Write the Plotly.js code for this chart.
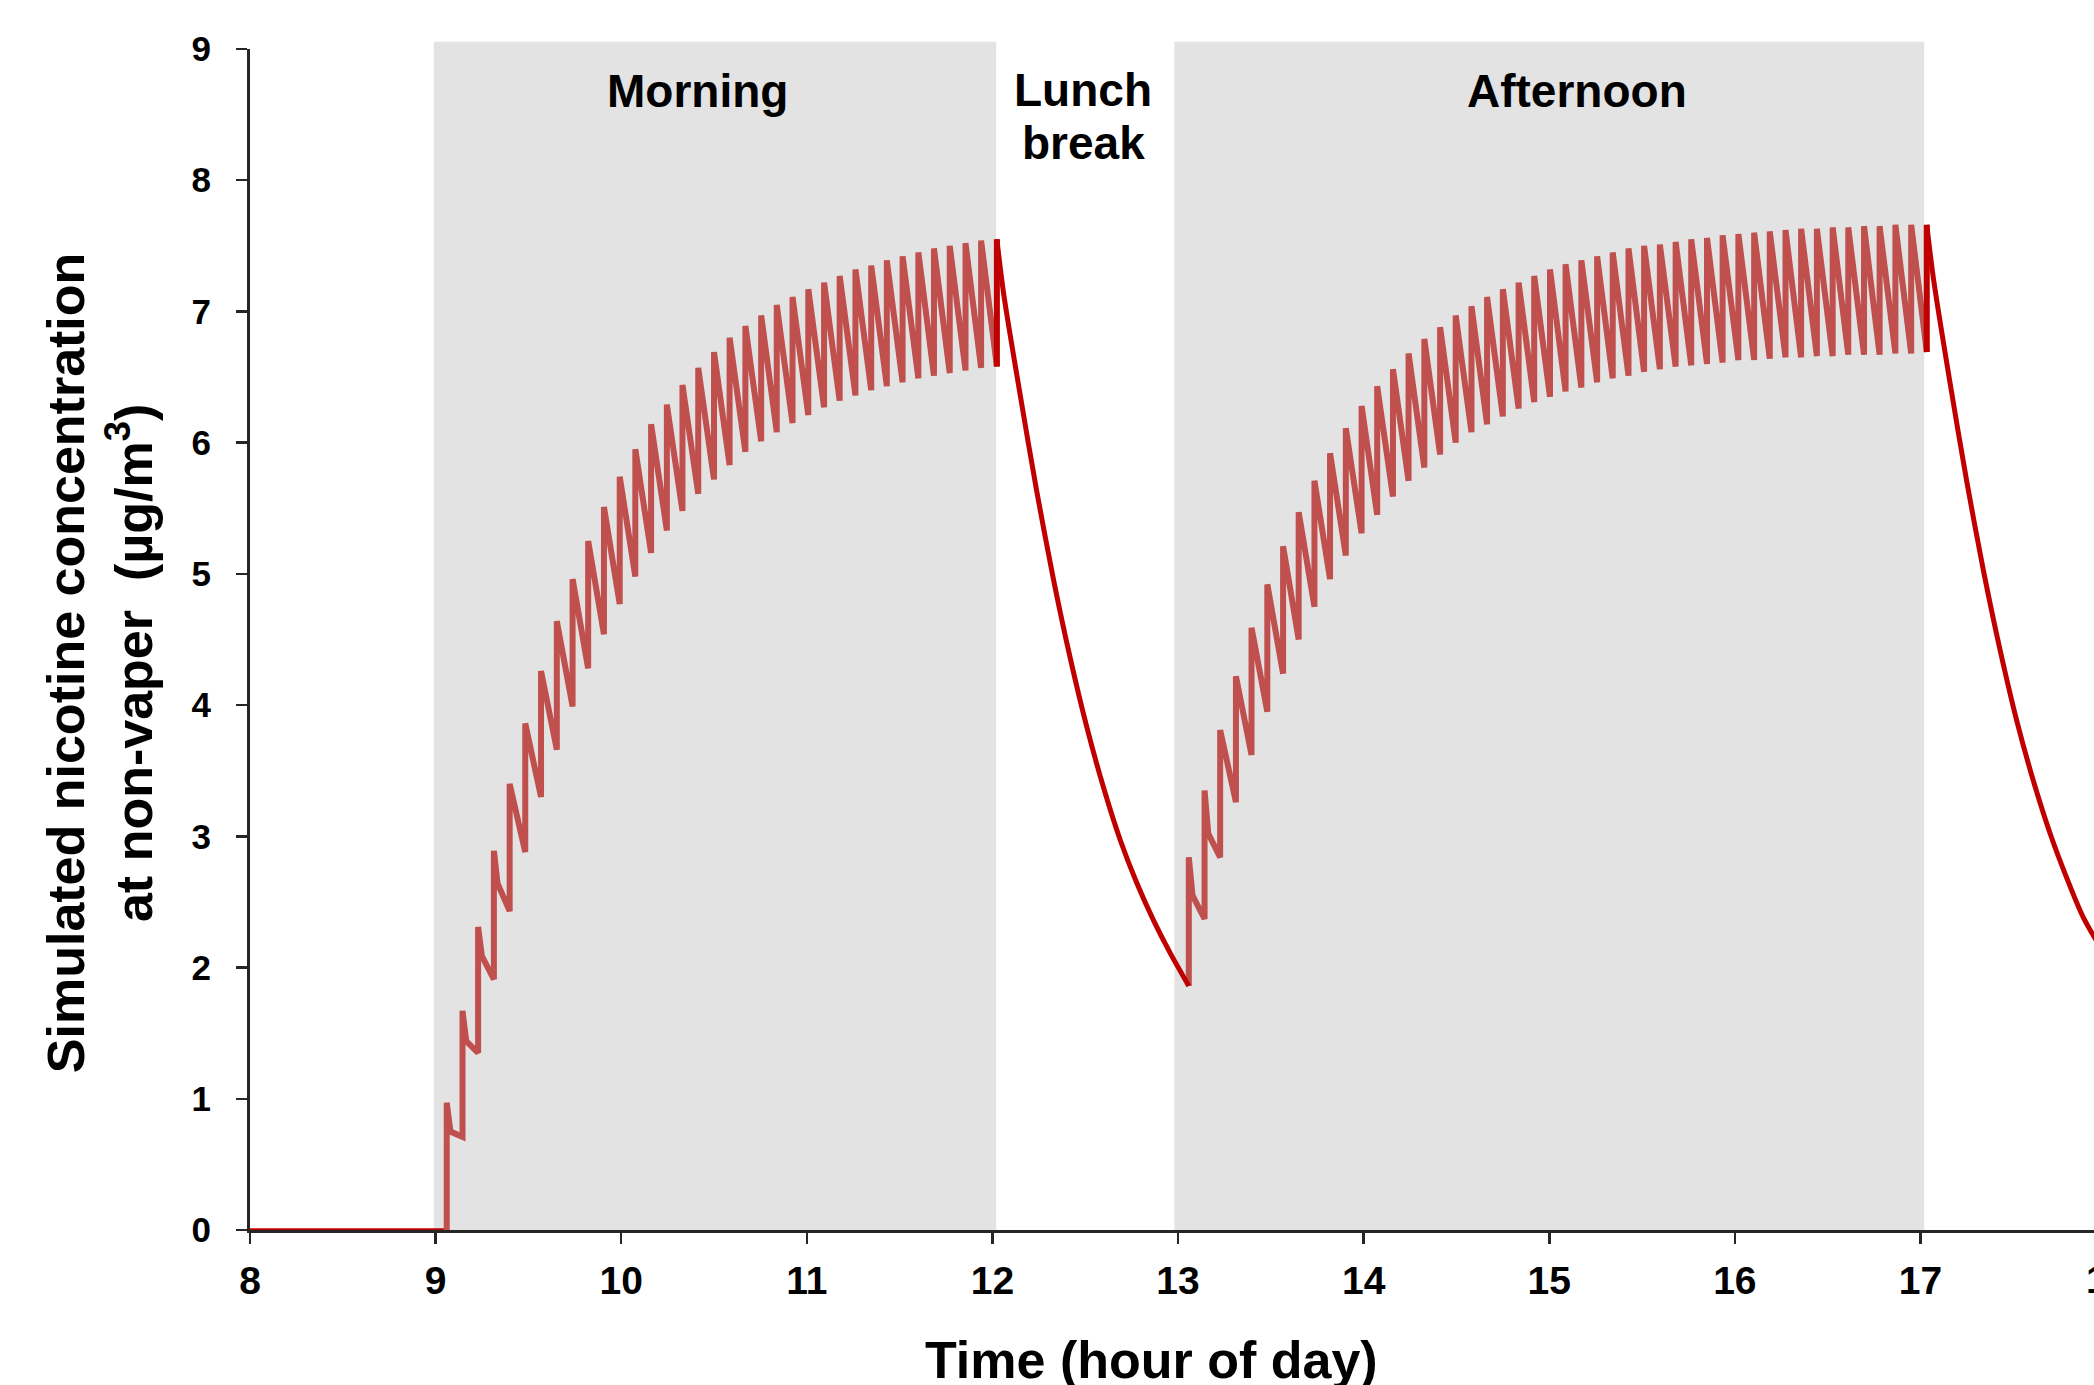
<!DOCTYPE html>
<html>
<head>
<meta charset="utf-8">
<script src="https://cdn.plot.ly/plotly-3.0.1.min.js"></script>
<style>
html, body { margin: 0; padding: 0; overflow: hidden; background: #fff; }
#chart { width: 2094px; height: 1385px; }
</style>
</head>
<body>
<div id="chart"></div>
<script>
// ---------------- DATA ----------------
// Morning vaping puffs (hour of day) and concentrations (µg/m3)
const morningPuffTimes = [9.060, 9.145, 9.229, 9.314, 9.399, 9.483, 9.568, 9.653, 9.738, 9.822,
  9.907, 9.992, 10.076, 10.161, 10.246, 10.330, 10.415, 10.500, 10.584, 10.669,
  10.754, 10.838, 10.923, 11.008, 11.093, 11.177, 11.262, 11.347, 11.431, 11.516,
  11.601, 11.685, 11.770, 11.855, 11.939, 12.024];
const morningPeaks = [0.97, 1.67, 2.31, 2.89, 3.40, 3.86, 4.26, 4.64, 4.96, 5.25,
  5.51, 5.74, 5.95, 6.14, 6.29, 6.44, 6.57, 6.69, 6.80, 6.89,
  6.97, 7.05, 7.11, 7.17, 7.22, 7.27, 7.32, 7.35, 7.39, 7.42,
  7.45, 7.48, 7.50, 7.52, 7.54, 7.55];
const morningTroughs = [0.71, 1.35, 1.91, 2.43, 2.88, 3.30, 3.66, 3.99, 4.28, 4.54,
  4.77, 4.98, 5.16, 5.33, 5.48, 5.61, 5.72, 5.83, 5.93, 6.01,
  6.08, 6.15, 6.21, 6.27, 6.32, 6.36, 6.40, 6.43, 6.46, 6.49,
  6.51, 6.53, 6.55, 6.57, 6.58];
const morningKneeTimes = [9.080, 9.165, 9.249, 9.334];
const morningKnees = [0.75, 1.44, 2.09, 2.64];

// Lunch break decay (starts at the last morning peak)
const lunchDecayTimes = [12.024, 12.060, 12.150, 12.240, 12.330, 12.419, 12.509, 12.599, 12.689, 12.779, 12.868, 12.958, 13.058];
const lunchDecayValues = [7.55, 7.14, 6.36, 5.62, 4.95, 4.36, 3.83, 3.37, 2.97, 2.64, 2.36, 2.11, 1.86];

// Afternoon vaping puffs
const afternoonPuffTimes = [13.058, 13.143, 13.227, 13.312, 13.396, 13.481, 13.566, 13.650, 13.735, 13.819,
  13.904, 13.989, 14.073, 14.158, 14.242, 14.327, 14.412, 14.496, 14.581, 14.665,
  14.750, 14.835, 14.919, 15.004, 15.088, 15.173, 15.258, 15.342, 15.427, 15.511,
  15.596, 15.681, 15.765, 15.850, 15.934, 16.019, 16.104, 16.188, 16.273, 16.357,
  16.442, 16.527, 16.611, 16.696, 16.780, 16.865, 16.950, 17.034];
const afternoonPeaks = [2.84, 3.35, 3.81, 4.22, 4.59, 4.92, 5.21, 5.47, 5.71, 5.92,
  6.11, 6.28, 6.43, 6.56, 6.68, 6.79, 6.88, 6.97, 7.04, 7.11,
  7.17, 7.22, 7.27, 7.32, 7.36, 7.39, 7.42, 7.45, 7.48, 7.50,
  7.51, 7.53, 7.55, 7.56, 7.58, 7.59, 7.60, 7.61, 7.62, 7.63,
  7.63, 7.64, 7.64, 7.65, 7.65, 7.66, 7.66, 7.66];
const afternoonTroughs = [2.37, 2.84, 3.26, 3.62, 3.95, 4.24, 4.50, 4.75, 4.96, 5.14,
  5.31, 5.45, 5.59, 5.71, 5.81, 5.91, 6.00, 6.08, 6.14, 6.20,
  6.26, 6.31, 6.35, 6.39, 6.42, 6.46, 6.49, 6.51, 6.54, 6.56,
  6.58, 6.59, 6.60, 6.61, 6.63, 6.63, 6.64, 6.65, 6.65, 6.66,
  6.66, 6.67, 6.67, 6.67, 6.68, 6.68, 6.69];
const afternoonKneeTimes = [13.078, 13.163];
const afternoonKnees = [2.55, 3.02];

// After-work decay (starts at the last afternoon peak)
const eveningDecayTimes = [17.034, 17.070, 17.160, 17.250, 17.340, 17.429, 17.519, 17.609, 17.699, 17.789, 17.878, 17.950];
const eveningDecayValues = [7.66, 7.25, 6.45, 5.70, 5.02, 4.42, 3.88, 3.42, 3.02, 2.68, 2.38, 2.20];

// Before work (no exposure)
const preWorkTimes = [8.0, 9.060];
const preWorkValues = [0, 0];

// Periods (shaded) and labels
const periodStarts = [8.99, 12.98];
const periodEnds = [12.02, 17.02];
const xTickValues = [8, 9, 10, 11, 12, 13, 14, 15, 16, 17];
const xTickLabels = ['8', '9', '10', '11', '12', '13', '14', '15', '16', '17'];
const yTickValues = [0, 1, 2, 3, 4, 5, 6, 7, 8, 9];
const yTickLabels = ['0', '1', '2', '3', '4', '5', '6', '7', '8', '9'];

// ---------------- BUILD SERIES ----------------
function sawtooth(times, peaks, troughs, kneeTimes, knees, startLevel) {
  const xs = [times[0]], ys = [startLevel];
  for (let i = 0; i < troughs.length; i++) {
    xs.push(times[i]); ys.push(peaks[i]);
    if (i < knees.length) { xs.push(kneeTimes[i]); ys.push(knees[i]); }
    xs.push(times[i + 1]); ys.push(troughs[i]);
  }
  return {xs, ys};
}
function lastRise(times, peaks, troughs) {
  const n = times.length - 1;
  return {xs: [times[n], times[n]], ys: [troughs[n - 1], peaks[n]]};
}

const mSaw = sawtooth(morningPuffTimes, morningPeaks, morningTroughs, morningKneeTimes, morningKnees, preWorkValues[1]);
const mRise = lastRise(morningPuffTimes, morningPeaks, morningTroughs);
const aSaw = sawtooth(afternoonPuffTimes, afternoonPeaks, afternoonTroughs, afternoonKneeTimes, afternoonKnees, lunchDecayValues[lunchDecayValues.length - 1]);
const aRise = lastRise(afternoonPuffTimes, afternoonPeaks, afternoonTroughs);

const SAW = '#C0504D', DEC = '#C00000';
const FONT = 'Liberation Sans, Arial, Helvetica, sans-serif';

const traces = [
  {x: preWorkTimes, y: preWorkValues, mode: 'lines', line: {color: DEC, width: 3.5}, cliponaxis: false, hoverinfo: 'skip'},
  {x: mSaw.xs, y: mSaw.ys, mode: 'lines', line: {color: SAW, width: 6}, cliponaxis: false, hoverinfo: 'skip'},
  {x: aSaw.xs, y: aSaw.ys, mode: 'lines', line: {color: SAW, width: 6}, cliponaxis: false, hoverinfo: 'skip'},
  {x: mRise.xs, y: mRise.ys, mode: 'lines', line: {color: DEC, width: 6}, cliponaxis: false, hoverinfo: 'skip'},
  {x: aRise.xs, y: aRise.ys, mode: 'lines', line: {color: DEC, width: 6}, cliponaxis: false, hoverinfo: 'skip'},
  {x: lunchDecayTimes, y: lunchDecayValues, mode: 'lines', line: {color: DEC, width: 5, shape: 'spline', smoothing: 0.8}, cliponaxis: false, hoverinfo: 'skip'},
  {x: eveningDecayTimes, y: eveningDecayValues, mode: 'lines', line: {color: DEC, width: 5, shape: 'spline', smoothing: 0.8}, cliponaxis: false, hoverinfo: 'skip'}
];

const shapes = periodStarts.map((s, i) => ({
  type: 'rect', xref: 'x', yref: 'paper', x0: s, x1: periodEnds[i], y0: 0, y1: 1.0062,
  fillcolor: '#E3E3E3', line: {width: 0}, layer: 'below'
}));

const annotations = [
  {text: '<b>Morning</b>', x: 10.41, y: 8.68, xref: 'x', yref: 'y', showarrow: false, xanchor: 'center', yanchor: 'middle', font: {family: FONT, size: 46, color: '#000'}},
  {text: '<b>Lunch</b>', x: 12.49, y: 8.69, xref: 'x', yref: 'y', showarrow: false, xanchor: 'center', yanchor: 'middle', font: {family: FONT, size: 46, color: '#000'}},
  {text: '<b>break</b>', x: 12.49, y: 8.28, xref: 'x', yref: 'y', showarrow: false, xanchor: 'center', yanchor: 'middle', font: {family: FONT, size: 46, color: '#000'}},
  {text: '<b>Afternoon</b>', x: 15.15, y: 8.68, xref: 'x', yref: 'y', showarrow: false, xanchor: 'center', yanchor: 'middle', font: {family: FONT, size: 46, color: '#000'}},
  {text: '<b>Time (hour of day)</b>', x: 0.489, y: -0.110, xref: 'paper', yref: 'paper', showarrow: false, xanchor: 'center', yanchor: 'middle', font: {family: FONT, size: 52, color: '#000'}},
  {text: '<b>Simulated nicotine concentration<br>at non-vaper  (µg/m<sup>3</sup>)</b>', x: -0.0813, y: 0.480, xref: 'paper', yref: 'paper', showarrow: false, textangle: -90, xanchor: 'center', yanchor: 'middle', font: {family: FONT, size: 52, color: '#000'}},
  {text: '<b>18</b>', x: 1.00705, y: -0.0415, xref: 'paper', yref: 'paper', showarrow: false, xanchor: 'center', yanchor: 'middle', font: {family: FONT, size: 39, color: '#000'}}
];

const axisCommon = {
  ticks: 'outside', ticklen: 11, tickwidth: 2.5, tickcolor: '#262626',
  showline: true, linewidth: 3, linecolor: '#262626',
  showgrid: false, zeroline: false, layer: 'below traces', fixedrange: true
};

const layout = {
  width: 2094, height: 1385,
  margin: {l: 250, r: 0, t: 49, b: 155, pad: 0},
  paper_bgcolor: '#ffffff', plot_bgcolor: '#ffffff',
  showlegend: false,
  xaxis: Object.assign({}, axisCommon, {
    range: [8, 17.935], tickmode: 'array', tickvals: xTickValues, ticktext: xTickLabels,
    tickfont: {family: FONT, size: 39, color: '#000', weight: 'bold'}, ticklabelstandoff: 3
  }),
  yaxis: Object.assign({}, axisCommon, {
    range: [0, 9], tickmode: 'array', tickvals: yTickValues, ticktext: yTickLabels,
    tickfont: {family: FONT, size: 35, color: '#000', weight: 'bold'}, ticklabelstandoff: 18
  }),
  shapes: shapes,
  annotations: annotations
};

Plotly.newPlot('chart', traces, layout, {staticPlot: true, displayModeBar: false});
</script>
</body>
</html>
